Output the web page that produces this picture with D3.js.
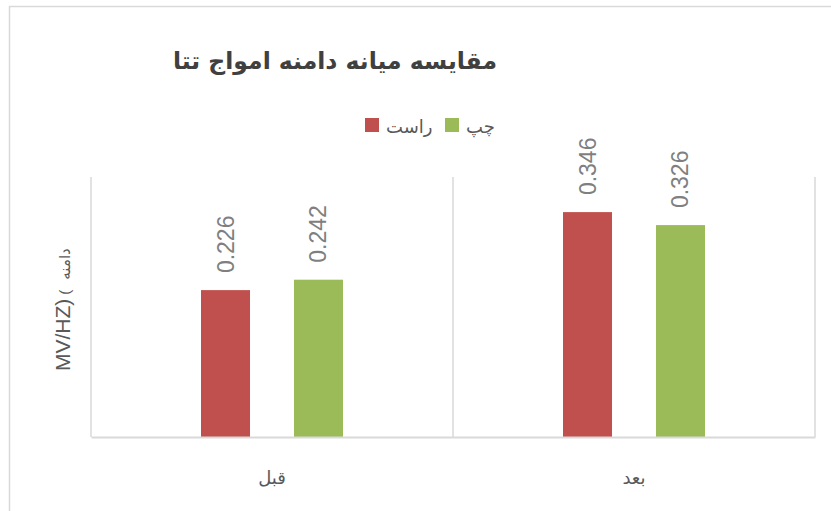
<!DOCTYPE html>
<html><head><meta charset="utf-8">
<script src="https://cdn.jsdelivr.net/npm/d3@7"></script>
<style>body{margin:0;background:#fff}svg{display:block}</style>
</head><body>
<script>
const categories = ["قبل", "بعد"];
const seriesNames = ["راست", "چپ"];
const seriesColors = ["#c0504d", "#9bbb59"];
const rightValues = [0.226, 0.346];
const leftValues = [0.242, 0.326];
const title = "مقایسه میانه دامنه امواج تتا";

const W = 831, H = 511;
const svg = d3.select("body").append("svg").attr("width", W).attr("height", H);

// outer border (extends beyond the visible area)
svg.append("rect").attr("x", 9.5).attr("y", 6.5).attr("width", 900).attr("height", 600)
  .attr("fill", "none").attr("stroke", "#d9d9d9").attr("stroke-width", 1.5);

const plot = {left: 91, right: 815, top: 177, bottom: 437};
const x = d3.scaleBand().domain(categories).range([plot.left, plot.right]);
const xs = d3.scaleBand().domain(seriesNames).range([0, x.bandwidth()]).paddingInner(0.473).paddingOuter(1.183);
const y = d3.scaleLinear().domain([0, 0.4]).range([plot.bottom, plot.top]);

// vertical separators
const seps = [plot.left].concat(categories.map(c => x(c) + x.bandwidth()));
svg.selectAll("line.sep").data(seps).join("line").attr("class", "sep")
  .attr("x1", d => d).attr("x2", d => d).attr("y1", plot.top).attr("y2", plot.bottom)
  .attr("stroke", "#d9d9d9").attr("stroke-width", 1.5);

const data = [];
categories.forEach((c, i) => {
  data.push({c, s: seriesNames[0], v: rightValues[i], color: seriesColors[0]});
  data.push({c, s: seriesNames[1], v: leftValues[i], color: seriesColors[1]});
});

svg.selectAll("rect.bar").data(data).join("rect").attr("class", "bar")
  .attr("x", d => x(d.c) + xs(d.s)).attr("width", xs.bandwidth())
  .attr("y", d => y(d.v)).attr("height", d => y(0) - y(d.v))
  .attr("fill", d => d.color);

// baseline axis
const xAxis = d3.axisBottom(x).tickSize(0).tickFormat("");
svg.append("g").attr("transform", `translate(0,${plot.bottom})`).call(xAxis)
  .call(g => g.select(".domain").attr("stroke", "#d9d9d9").attr("stroke-width", 2));

// category labels
svg.selectAll("text.cat").data(categories).join("text").attr("class", "cat")
  .attr("x", d => x(d) + x.bandwidth() / 2).attr("y", 484)
  .attr("text-anchor", "middle").attr("font-family", "DejaVu Sans").attr("font-size", 18)
  .attr("fill", "#595959").text(d => d);

// data labels
svg.selectAll("text.val").data(data).join("text").attr("class", "val")
  .attr("transform", d => `translate(${x(d.c) + xs(d.s) + xs.bandwidth() / 2 + 8},${y(d.v) - 17}) rotate(-90)`)
  .attr("font-family", "Liberation Sans, Arial, sans-serif").attr("font-size", 23)
  .attr("fill", "#7f7f7f").text(d => d.v.toFixed(3));

// title
svg.append("text").attr("x", 335).attr("y", 69).attr("text-anchor", "middle")
  .attr("font-family", "DejaVu Sans").attr("font-weight", "bold").attr("font-size", 23.5)
  .attr("fill", "#404040").attr("direction", "rtl").text(title);

// legend
const legendItems = [
  {name: seriesNames[0], color: seriesColors[0], x: 365},
  {name: seriesNames[1], color: seriesColors[1], x: 445}
];
const lg = svg.append("g");
legendItems.forEach(it => {
  lg.append("rect").attr("x", it.x).attr("y", 118).attr("width", 14).attr("height", 14).attr("fill", it.color);
  lg.append("text").attr("x", it.x + 21).attr("y", 133).attr("text-anchor", "start")
    .attr("font-family", "DejaVu Sans").attr("font-size", 18).attr("fill", "#595959").text(it.name);
});

// y-axis title
const yt = svg.append("text").attr("transform", "translate(70,371) rotate(-90)")
  .attr("fill", "#595959").attr("direction", "ltr");
yt.append("tspan").attr("font-family", "Liberation Sans, Arial, sans-serif").attr("font-size", 21).text("MV/HZ)");
yt.append("tspan").attr("font-family", "Liberation Sans, Arial, sans-serif").attr("font-size", 15).attr("dx", 4).text("(");
yt.append("tspan").attr("font-family", "DejaVu Sans").attr("font-size", 15).attr("dx", 10).text("دامنه");
</script>
</body></html>
